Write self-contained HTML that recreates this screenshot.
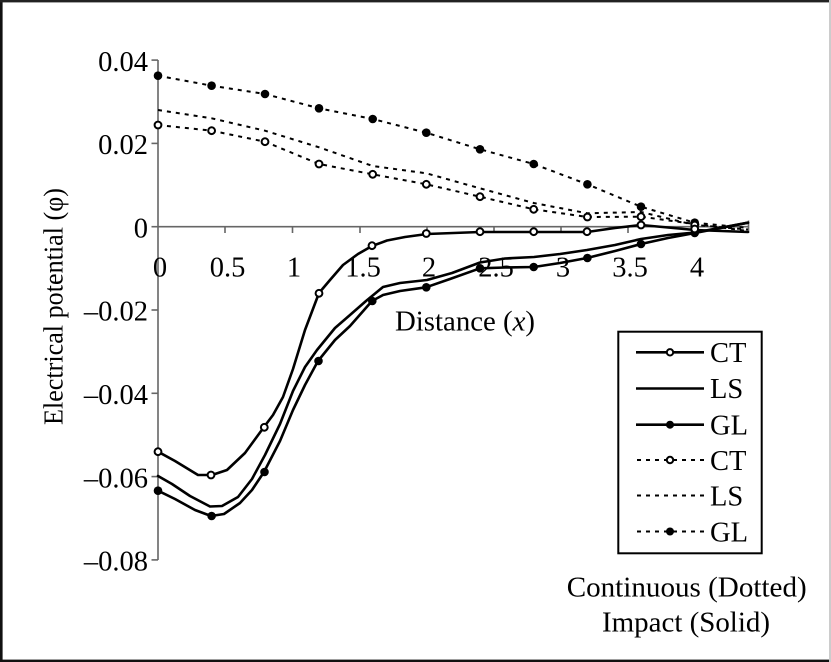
<!DOCTYPE html>
<html><head><meta charset="utf-8"><style>
html,body{margin:0;padding:0;background:#fff;}
svg{display:block;}
text{font-family:"Liberation Serif","Times New Roman",serif;fill:#000;}
</style></head><body>
<svg width="831" height="662" viewBox="0 0 831 662" xmlns="http://www.w3.org/2000/svg">
<rect x="0" y="0" width="831" height="662" fill="#fff"/>
<!-- borders -->
<rect x="0" y="0" width="2.6" height="662" fill="#111"/>
<rect x="0" y="0" width="831" height="2.4" fill="#222"/>
<rect x="0" y="659.6" width="831" height="2.4" fill="#111"/>
<rect x="829" y="0" width="2" height="662" fill="#ccc"/>

<!-- axes -->
<g stroke="#666" stroke-width="1.6" fill="none">
<line x1="158" y1="60" x2="158" y2="560"/>
<line x1="158" y1="226.7" x2="748.5" y2="226.7"/>
<line x1="151.5" y1="60.1" x2="158" y2="60.1"/>
<line x1="151.5" y1="143.4" x2="158" y2="143.4"/>
<line x1="151.5" y1="226.7" x2="158" y2="226.7"/>
<line x1="151.5" y1="310" x2="158" y2="310"/>
<line x1="151.5" y1="393.3" x2="158" y2="393.3"/>
<line x1="151.5" y1="476.6" x2="158" y2="476.6"/>
<line x1="151.5" y1="559.9" x2="158" y2="559.9"/>
<line x1="225" y1="226.7" x2="225" y2="233"/>
<line x1="292.5" y1="226.7" x2="292.5" y2="233"/>
<line x1="360" y1="226.7" x2="360" y2="233"/>
<line x1="427" y1="226.7" x2="427" y2="233"/>
<line x1="494" y1="226.7" x2="494" y2="233"/>
<line x1="561" y1="226.7" x2="561" y2="233"/>
<line x1="628" y1="226.7" x2="628" y2="233"/>
<line x1="695.5" y1="226.7" x2="695.5" y2="233"/>
<line x1="748.5" y1="220.5" x2="748.5" y2="233"/>
</g>

<!-- y tick labels -->
<g font-size="28.5" text-anchor="end">
<text x="148" y="70.8">0.04</text>
<text x="148" y="154">0.02</text>
<text x="148" y="237.5">0</text>
<text x="148" y="320.7">–0.02</text>
<text x="148" y="404">–0.04</text>
<text x="148" y="487.3">–0.06</text>
<text x="148" y="570.5">–0.08</text>
</g>
<!-- x tick labels -->
<g font-size="28.5" text-anchor="middle">
<text x="160" y="276.5">0</text>
<text x="227.5" y="276.5">0.5</text>
<text x="294" y="276.5">1</text>
<text x="363" y="276.5">1.5</text>
<text x="429" y="276.5">2</text>
<text x="496" y="276.5">2.5</text>
<text x="563" y="276.5">3</text>
<text x="630" y="276.5">3.5</text>
<text x="697" y="276.5">4</text>
</g>

<text transform="translate(62.5,306.5) rotate(-90)" font-size="27" text-anchor="middle" textLength="237" lengthAdjust="spacingAndGlyphs">Electrical potential (φ)</text>
<text x="395" y="330.5" font-size="28.5" textLength="140" lengthAdjust="spacingAndGlyphs">Distance (<tspan font-style="italic">x</tspan>)</text>

<!-- dotted series -->
<g fill="none" stroke="#000" stroke-width="2" stroke-dasharray="4,5">
<polyline points="158,75.7 211.6,85.7 265,94 319,108.3 372.7,119 426.3,132.7 480,149.3 533.7,164 587.4,184.3 641,206.7 694.7,222.7 748,228"/>
<polyline points="158,110 211.6,118.3 265,130.7 319,147.3 372.7,166 426.3,173.3 480,188.3 533.7,203 587.4,213.3 641,212 694.7,225 748,229.5"/>
<polyline points="158,125 211.6,130.7 265,141.7 319,164 372.7,174.3 426.3,184.3 480,196.7 533.7,209.3 587.4,217 641,216.7 694.7,224 748,231"/>
</g>

<!-- solid series -->
<g fill="none" stroke="#000" stroke-width="2.6" stroke-linejoin="round" stroke-linecap="round">
<polyline points="158,451.7 175,461 198,475 212,475 227,470 245,453 264,427 273,415 283,397 293,369 305,330 319,293 330,280 343,265 358,254 372,246 387,240.5 405,237 427,234 480,232 534,232 587,232 615,228 641,225 695,230 748,232"/>
<polyline points="158,476 172,484 190,496 210,506.5 222,506 238,497 252,479 265,455 280,424 293,391 305,367 317,350 335,328 350,315 366,301 383,287 400,283 427,280 452,273 480,262.5 505,258.5 534,257 560,254 587,250 615,245 641,239 668,235 695,232.5 748,222.7"/>
<polyline points="158,490.7 175,499 195,510 211,516 224,514 240,503 252,490 264,472 280,441 293,410 305,385 318,361 335,340 350,326 372,301 383,295 400,291 426,287.3 450,279 480,268.3 505,267.5 534,267 560,263 587,258 615,251 641,244 668,238 695,233 748,222.7"/>
</g>

<!-- markers: filled (GL) -->
<g fill="#000">
<circle cx="158" cy="75.7" r="4.3"/><circle cx="211.6" cy="85.7" r="4.3"/><circle cx="265" cy="94" r="4.3"/><circle cx="319" cy="108.3" r="4.3"/><circle cx="372.7" cy="119" r="4.3"/><circle cx="426.3" cy="132.7" r="4.3"/><circle cx="480" cy="149.3" r="4.3"/><circle cx="533.7" cy="164" r="4.3"/><circle cx="587.4" cy="184.3" r="4.3"/><circle cx="641" cy="206.7" r="4.3"/><circle cx="694.7" cy="222.7" r="4.3"/>
<circle cx="158" cy="490.7" r="4.3"/><circle cx="211.6" cy="516" r="4.3"/><circle cx="264.5" cy="472" r="4.3"/><circle cx="318.5" cy="361" r="4.3"/><circle cx="372.3" cy="301" r="4.3"/><circle cx="426.3" cy="287.3" r="4.3"/><circle cx="480" cy="268.3" r="4.3"/><circle cx="533.7" cy="267" r="4.3"/><circle cx="587.4" cy="258" r="4.3"/><circle cx="641" cy="244" r="4.3"/><circle cx="694.7" cy="233" r="4.3"/>
</g>
<!-- markers: open (CT) -->
<g fill="#fff" stroke="#000" stroke-width="2">
<circle cx="158" cy="125" r="3.4"/><circle cx="211.6" cy="130.7" r="3.4"/><circle cx="265" cy="141.7" r="3.4"/><circle cx="319" cy="164" r="3.4"/><circle cx="372.7" cy="174.3" r="3.4"/><circle cx="426.3" cy="184.3" r="3.4"/><circle cx="480" cy="196.7" r="3.4"/><circle cx="533.7" cy="209.3" r="3.4"/><circle cx="587.4" cy="217" r="3.4"/><circle cx="641" cy="216.7" r="3.4"/><circle cx="694.7" cy="225" r="3.4"/>
<circle cx="158" cy="451.7" r="3.4"/><circle cx="211" cy="475" r="3.4"/><circle cx="264.3" cy="427.3" r="3.4"/><circle cx="319" cy="293.3" r="3.4"/><circle cx="372" cy="245.7" r="3.4"/><circle cx="426.3" cy="233.5" r="3.4"/><circle cx="480" cy="231.7" r="3.4"/><circle cx="533.7" cy="231.7" r="3.4"/><circle cx="587" cy="231.7" r="3.4"/><circle cx="641" cy="225" r="3.4"/><circle cx="694.7" cy="229" r="3.4"/>
</g>

<!-- legend -->
<rect x="618.3" y="331.7" width="143.4" height="221.6" fill="none" stroke="#000" stroke-width="2"/>
<g stroke="#000" fill="none">
<line x1="636" y1="352.3" x2="704" y2="352.3" stroke-width="2.6"/>
<line x1="636" y1="388.5" x2="704" y2="388.5" stroke-width="2.6"/>
<line x1="636" y1="424.7" x2="704" y2="424.7" stroke-width="2.6"/>
<line x1="637" y1="460" x2="704" y2="460" stroke-width="2" stroke-dasharray="4,5"/>
<line x1="637" y1="495.5" x2="704" y2="495.5" stroke-width="2" stroke-dasharray="4,5"/>
<line x1="637" y1="531.5" x2="704" y2="531.5" stroke-width="2" stroke-dasharray="4,5"/>
</g>
<circle cx="670" cy="352.3" r="3.2" fill="#fff" stroke="#000" stroke-width="2"/>
<circle cx="670" cy="424.7" r="4" fill="#000"/>
<circle cx="670" cy="460" r="3.2" fill="#fff" stroke="#000" stroke-width="2"/>
<circle cx="670" cy="531.5" r="4" fill="#000"/>
<g font-size="28.5">
<text x="710" y="362">CT</text>
<text x="710" y="398">LS</text>
<text x="710" y="434.5">GL</text>
<text x="710" y="470">CT</text>
<text x="710" y="505.5">LS</text>
<text x="710" y="541.5">GL</text>
</g>

<g font-size="29" text-anchor="middle">
<text x="686.7" y="596.7" textLength="240" lengthAdjust="spacingAndGlyphs">Continuous (Dotted)</text>
<text x="686" y="631.7" textLength="168" lengthAdjust="spacingAndGlyphs">Impact (Solid)</text>
</g>
</svg>
</body></html>
